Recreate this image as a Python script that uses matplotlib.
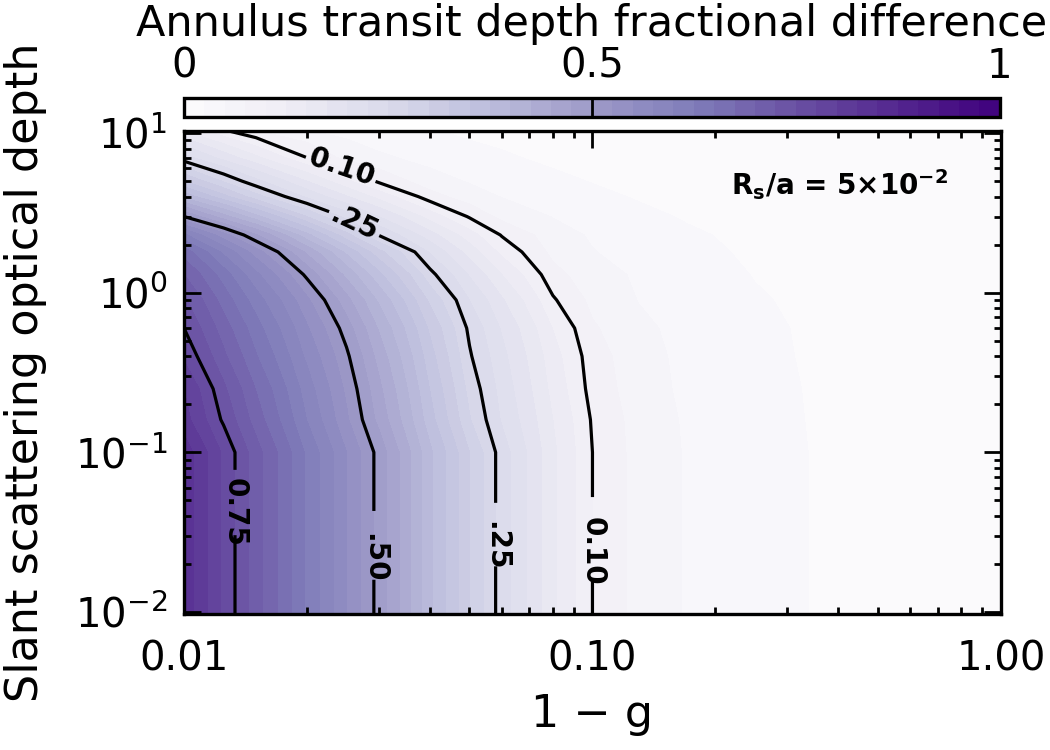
import numpy as np
import matplotlib
matplotlib.use("Agg")
import matplotlib.pyplot as plt
from matplotlib.ticker import FixedLocator, LogLocator, NullFormatter

# ===============================
# DATA
# ===============================
# x axis: 1 - g
one_minus_g = [0.01, 0.0125, 0.015, 0.02, 0.025, 0.03, 0.04, 0.05, 0.06, 0.08,
               0.1, 0.13, 0.17, 0.25, 0.4, 0.6, 1.0]
# y axis: slant scattering optical depth
tau_slant = [0.0097, 0.1, 0.16, 0.25, 0.4, 0.6, 0.9, 1.3, 1.8, 2.3,
             3.0, 4.0, 5.0, 7.0, 10.5]

# annulus transit depth fractional difference, one row per tau
frac_diff = [
    [0.84, 0.77, 0.71, 0.62, 0.55, 0.49, 0.38, 0.30, 0.237, 0.155, 0.100, 0.064, 0.048, 0.032, 0.020, 0.013, 0.007],
    [0.84, 0.77, 0.71, 0.62, 0.55, 0.49, 0.38, 0.30, 0.237, 0.155, 0.100, 0.064, 0.048, 0.032, 0.020, 0.013, 0.007],
    [0.81, 0.745, 0.688, 0.599, 0.529, 0.467, 0.360, 0.277, 0.222, 0.150, 0.097, 0.063, 0.047, 0.032, 0.019, 0.012, 0.007],
    [0.80, 0.730, 0.674, 0.587, 0.519, 0.456, 0.349, 0.266, 0.215, 0.142, 0.090, 0.060, 0.045, 0.031, 0.019, 0.012, 0.007],
    [0.77, 0.705, 0.652, 0.569, 0.505, 0.440, 0.335, 0.253, 0.207, 0.135, 0.086, 0.058, 0.044, 0.030, 0.018, 0.011, 0.006],
    [0.75, 0.687, 0.635, 0.553, 0.487, 0.422, 0.320, 0.244, 0.197, 0.124, 0.078, 0.055, 0.042, 0.029, 0.018, 0.011, 0.006],
    [0.73, 0.664, 0.612, 0.530, 0.458, 0.395, 0.294, 0.225, 0.178, 0.103, 0.068, 0.049, 0.039, 0.027, 0.016, 0.010, 0.005],
    [0.70, 0.637, 0.581, 0.493, 0.417, 0.356, 0.258, 0.197, 0.150, 0.083, 0.060, 0.046, 0.035, 0.024, 0.014, 0.009, 0.005],
    [0.664, 0.594, 0.537, 0.444, 0.369, 0.308, 0.222, 0.164, 0.118, 0.068, 0.051, 0.040, 0.031, 0.021, 0.012, 0.008, 0.004],
    [0.605, 0.535, 0.477, 0.382, 0.308, 0.248, 0.185, 0.135, 0.098, 0.060, 0.047, 0.037, 0.028, 0.019, 0.011, 0.007, 0.003],
    [0.50, 0.435, 0.383, 0.300, 0.239, 0.200, 0.139, 0.097, 0.067, 0.049, 0.040, 0.030, 0.023, 0.015, 0.009, 0.006, 0.003],
    [0.391, 0.333, 0.285, 0.220, 0.177, 0.141, 0.086, 0.060, 0.049, 0.038, 0.030, 0.023, 0.017, 0.011, 0.006, 0.004, 0.002],
    [0.325, 0.272, 0.232, 0.175, 0.130, 0.095, 0.059, 0.048, 0.039, 0.030, 0.024, 0.018, 0.013, 0.008, 0.005, 0.003, 0.002],
    [0.235, 0.191, 0.156, 0.100, 0.067, 0.054, 0.042, 0.032, 0.028, 0.020, 0.016, 0.012, 0.008, 0.005, 0.003, 0.002, 0.001],
    [0.145, 0.100, 0.073, 0.050, 0.040, 0.033, 0.026, 0.020, 0.016, 0.012, 0.009, 0.007, 0.005, 0.003, 0.002, 0.001, 0.001],
]

contour_levels = [0.10, 0.25, 0.50, 0.75]
contour_names = {0.10: "0.10", 0.25: ".25", 0.50: ".50", 0.75: "0.75"}
# where the contour labels sit (1-g, tau)
label_spots = [(0.0241, 5.7), (0.026, 2.68), (0.0131, 0.042),
               (0.0289, 0.022), (0.057, 0.026), (0.1, 0.024)]

# ===============================
# FIGURE
# ===============================
plt.rcParams["font.family"] = "DejaVu Sans"

fig = plt.figure(figsize=(10.5, 7.5), dpi=100)
ax = fig.add_axes([0.1752, 0.1813, 0.7781, 0.644])
cax = fig.add_axes([0.1752, 0.844, 0.777, 0.0253])

X, Y = np.meshgrid(one_minus_g, tau_slant)
Z = np.array(frac_diff)

cf = ax.contourf(X, Y, Z, levels=np.linspace(0, 1, 41), cmap="Purples",
                 vmin=0, vmax=1)
ax.set_xscale("log")
ax.set_yscale("log")
ax.set_xlim(0.01, 1.0)
ax.set_ylim(0.0097, 10.3)

cs = ax.contour(X, Y, Z, levels=contour_levels, colors="black", linewidths=2.3)
labels = ax.clabel(cs, fmt=contour_names, manual=label_spots, fontsize=20,
                   inline=True, inline_spacing=6)
for t in labels:
    t.set_fontweight("bold")

# axes styling
for s in ax.spines.values():
    s.set_linewidth(2.4)
ax.xaxis.set_major_locator(FixedLocator([0.01, 0.1, 1.0]))
ax.set_xticklabels(["0.01", "0.10", "1.00"])
ax.xaxis.set_minor_locator(LogLocator(base=10, subs=np.arange(2, 10)))
ax.xaxis.set_minor_formatter(NullFormatter())
ax.yaxis.set_major_locator(LogLocator(base=10, numticks=10))
ax.yaxis.set_minor_locator(LogLocator(base=10, subs=np.arange(2, 10), numticks=10))
ax.yaxis.set_minor_formatter(NullFormatter())
ax.tick_params(which="both", direction="in", top=True, right=True, width=2)
ax.tick_params(which="major", length=12, labelsize=29)
ax.tick_params(which="minor", length=5)
ax.tick_params(axis="x", which="major", pad=18)
ax.tick_params(axis="y", which="major", pad=12)

ax.set_xlabel("1 \u2212 g", fontsize=32, labelpad=10)
ax.set_ylabel("Slant scattering optical depth", fontsize=32, labelpad=20)

ax.text(0.935, 0.888, r"R$_\mathbf{s}$/a = 5×10$^{\mathbf{-2}}$", transform=ax.transAxes,
        ha="right", va="center", fontsize=20, fontweight="bold")

# colorbar on top
cb = fig.colorbar(cf, cax=cax, orientation="horizontal", ticks=[0, 0.5, 1])
cb.outline.set_linewidth(2.4)
cax.xaxis.set_ticks_position("top")
cax.xaxis.set_label_position("top")
cax.set_xticklabels(["0", "0.5", "1"])
cax.tick_params(axis="x", direction="in", length=14, width=2, labelsize=29, pad=8)
cb.set_label("Annulus transit depth fractional difference", fontsize=31, labelpad=8)

fig.savefig("out.png", dpi=100)
